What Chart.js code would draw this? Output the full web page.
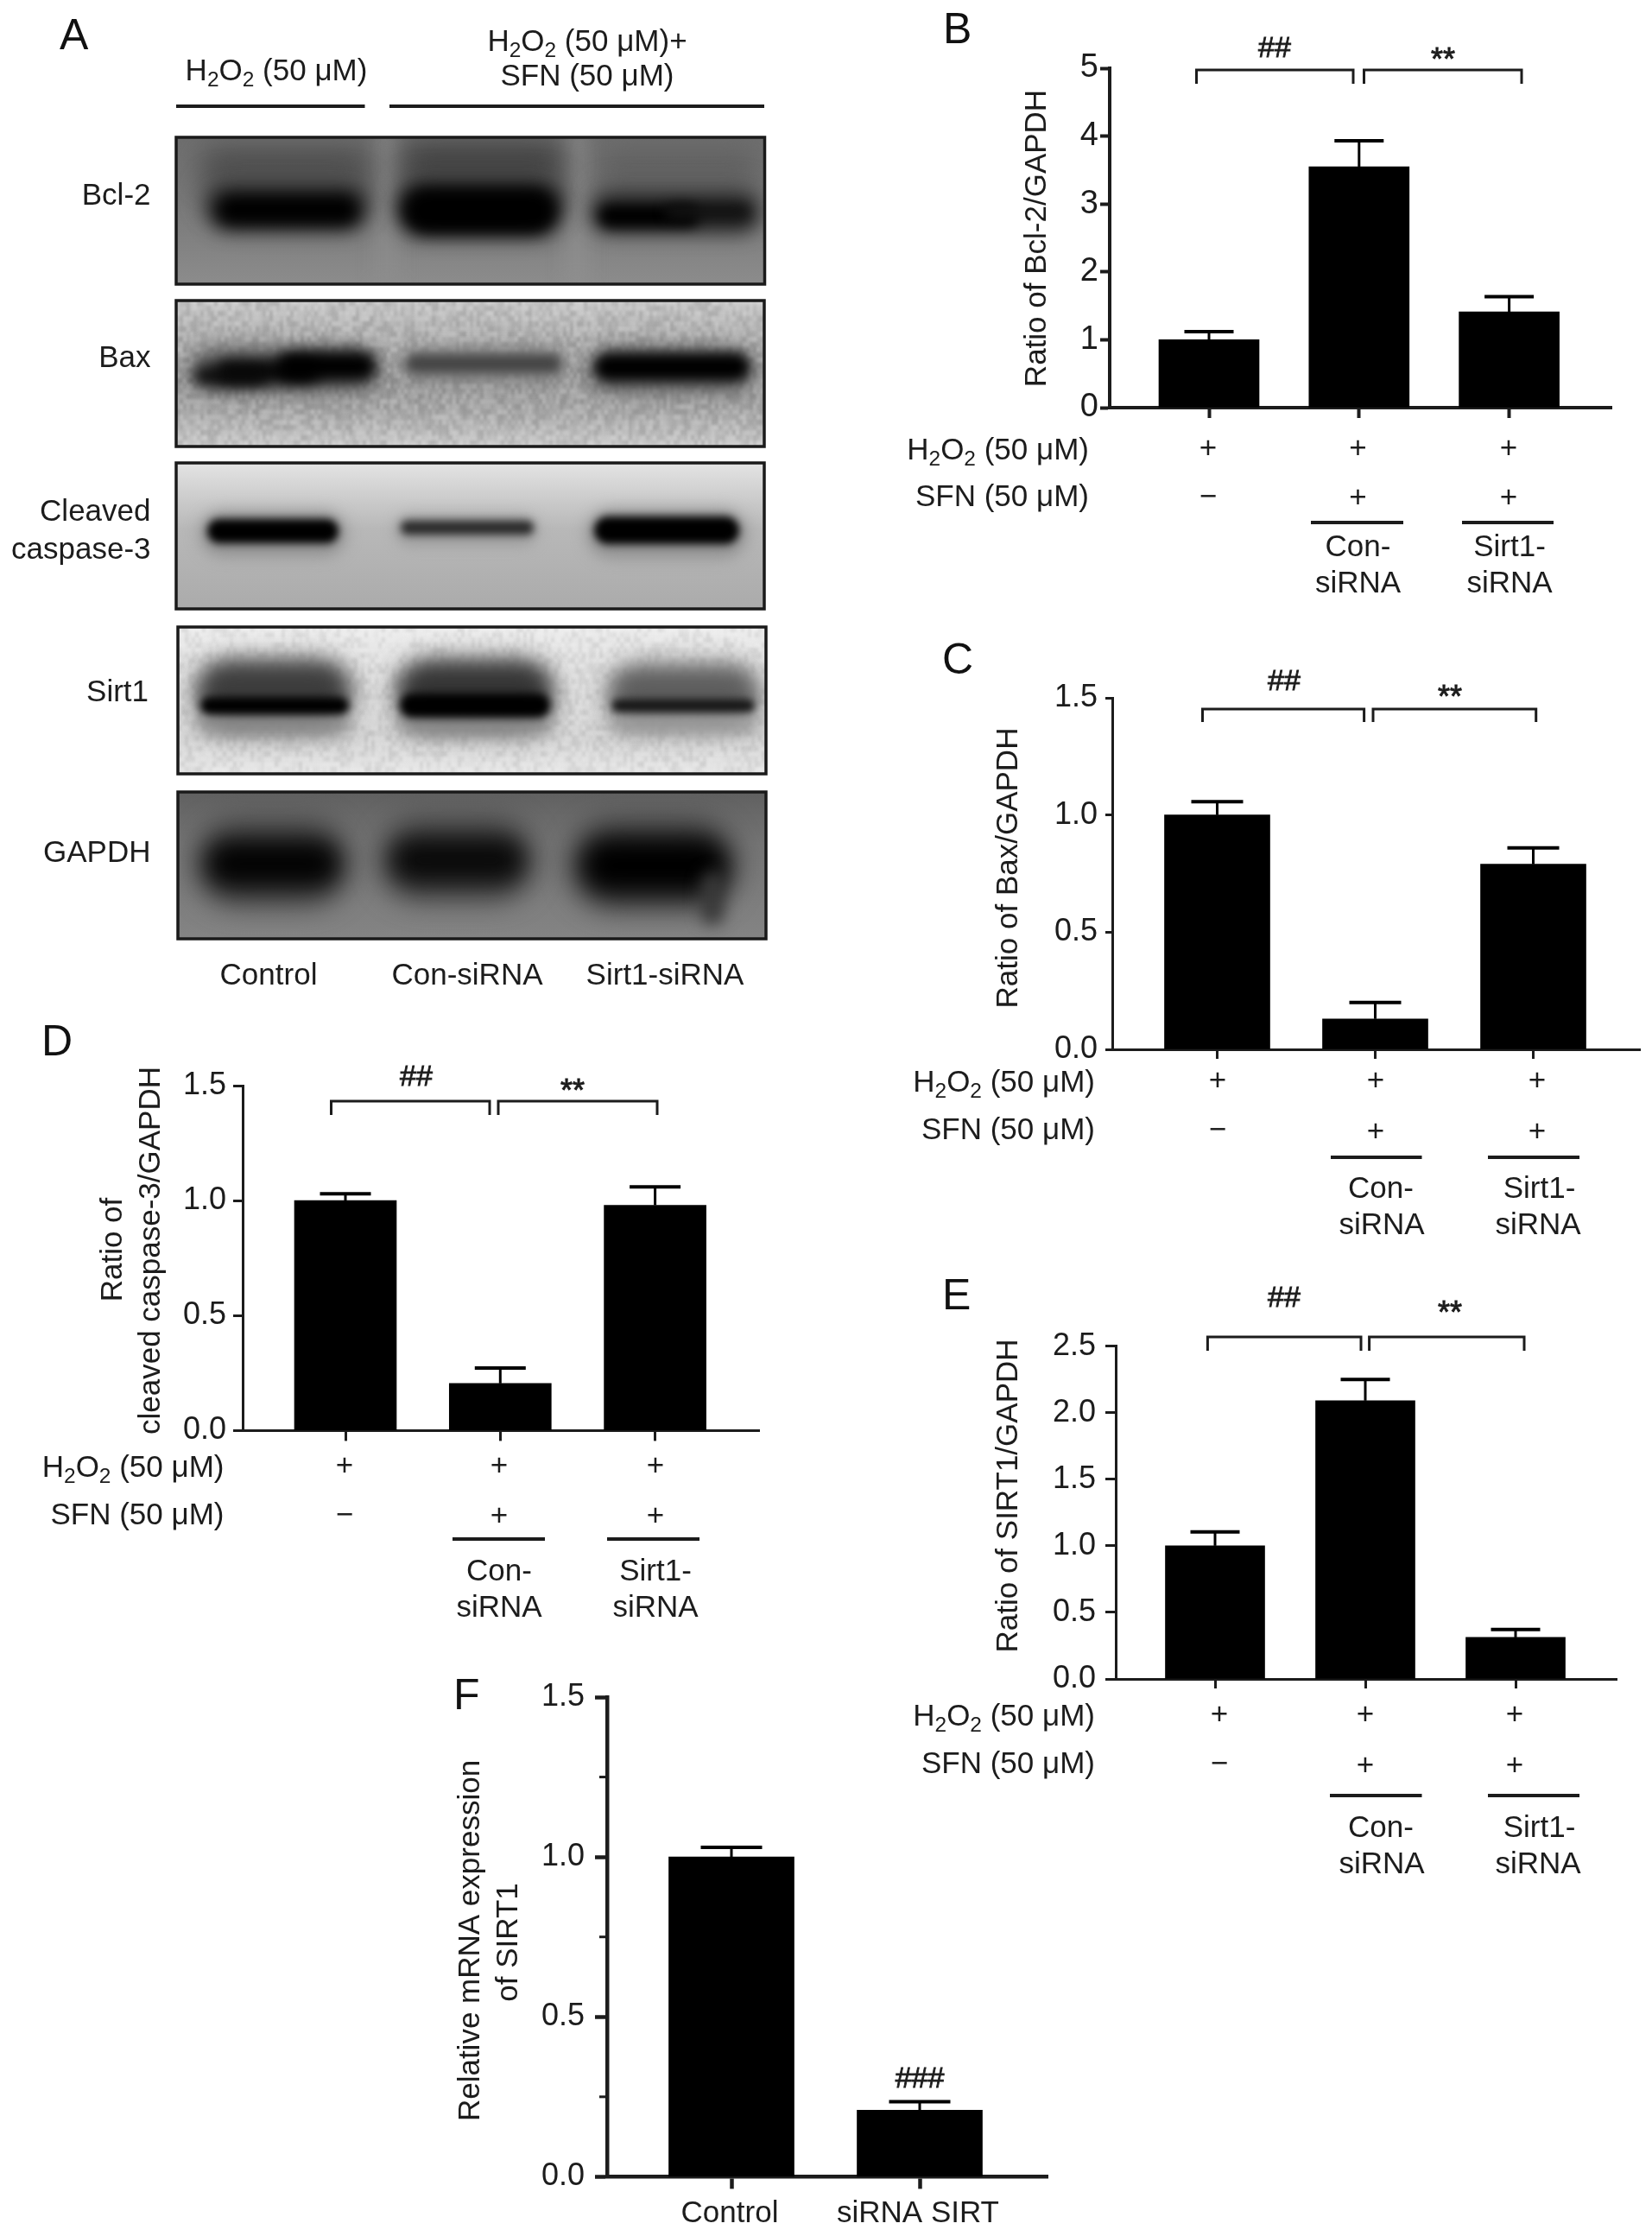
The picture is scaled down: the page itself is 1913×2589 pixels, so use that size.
<!DOCTYPE html>
<html><head><meta charset="utf-8">
<style>
html,body{margin:0;padding:0;background:#fff;width:1913px;height:2589px;overflow:hidden}
canvas{position:absolute;left:0;top:0;filter:blur(.6px)}
</style>
<script src="https://cdn.jsdelivr.net/npm/chart.js@4/dist/chart.umd.min.js"></script>
</head><body>
<script>
// ---------- data ----------
const categories = ['Control', 'Con-siRNA', 'Sirt1-siRNA'];
const mrnaCategories = ['Control', 'siRNA SIRT'];
const bcl2Values = [1.0, 3.55, 1.41];
const bcl2Errors = [0.12, 0.38, 0.225];
const baxValues = [1.0, 0.13, 0.79];
const baxErrors = [0.057, 0.07, 0.07];
const caspaseValues = [1.0, 0.205, 0.98];
const caspaseErrors = [0.03, 0.067, 0.08];
const sirt1Values = [1.0, 2.09, 0.312];
const sirt1Errors = [0.105, 0.16, 0.06];
const mrnaValues = [1.0, 0.208];
const mrnaErrors = [0.03, 0.027];
const bcl2Ticks = [0, 1, 2, 3, 4, 5];
const ratio15Ticks = [0, 0.5, 1.0, 1.5];
const sirt1Ticks = [0, 0.5, 1.0, 1.5, 2.0, 2.5];
const mrnaMinorTicks = [0.25, 0.75, 1.25];
const h2o2Row = ['+', '+', '+'];
const sfnRow = ['−', '+', '+'];
const blotRows = ['Bcl-2', 'Bax', 'Cleaved caspase-3', 'Sirt1', 'GAPDH'];

// ---------- shared drawing helpers ----------
const W = 1913, H = 2589, INK = '#1c1c1c', FAM = '"Liberation Sans", Arial, sans-serif';
function newCanvas(){ const c = document.createElement('canvas'); c.width = W; c.height = H; c.style.width = W+'px'; c.style.height = H+'px'; document.body.appendChild(c); return c; }
function font(s){ return s + 'px ' + FAM; }
function text(ctx, s, x, y, size, align){
  ctx.font = font(size); ctx.textAlign = align || 'center'; ctx.textBaseline = 'middle'; ctx.fillStyle = INK; ctx.fillText(s, x, y);
}
function heavy(ctx, s, x, y, size){
  text(ctx, s, x, y, size); ctx.strokeStyle = INK; ctx.lineWidth = .9; ctx.strokeText(s, x, y);
}
// "H2O2 (50 µM)" with real subscripts. anchor: 'right' or 'center'
function h2o2(ctx, x, y, size, anchor, suffix){
  const parts = [['H',0],['2',1],['O',0],['2',1],[' (50 μM)' + (suffix||''),0]];
  let tot = 0; parts.forEach(p => { ctx.font = font(p[1] ? size*.7 : size); tot += ctx.measureText(p[0]).width; });
  let cx = anchor === 'center' ? x - tot/2 : x - tot;
  ctx.textAlign = 'left'; ctx.textBaseline = 'alphabetic'; ctx.fillStyle = INK;
  const base = y + size*.355;
  parts.forEach(p => { ctx.font = font(p[1] ? size*.7 : size); ctx.fillText(p[0], cx, base + (p[1] ? size*.2 : 0)); cx += ctx.measureText(p[0]).width; });
}
function hline(ctx, x1, x2, y, w){ ctx.strokeStyle = INK; ctx.lineWidth = w; ctx.beginPath(); ctx.moveTo(x1,y); ctx.lineTo(x2,y); ctx.stroke(); }
function letter(ctx, s, x, baseY){ ctx.font = font(50); ctx.textAlign='left'; ctx.textBaseline='alphabetic'; ctx.fillStyle='#111'; ctx.fillText(s,x,baseY); }
function vtext(ctx, s, x, y, size){ ctx.save(); ctx.translate(x,y); ctx.rotate(-Math.PI/2); text(ctx,s,0,0,size); ctx.restore(); }

// ---------- bar panels ----------
function barPanel(p){
  const c = newCanvas();
  const yw = 120, hasLabels = !!p.nativeLabels, xh = hasLabels ? 70 : p.tickX + 2;
  new Chart(c, {
    type: 'bar',
    data: { datasets: [{ data: p.cats.map((_, i) => ({x: i, y: p.values[i]})), backgroundColor: '#000', borderWidth: 0, barThickness: p.barW }] },
    options: {
      responsive: false, animation: false,
      layout: { padding: { left: p.axisX - yw, right: W - p.axisEnd, top: p.yTop, bottom: H - p.y0 - xh } },
      plugins: { legend: {display:false}, tooltip: {enabled:false} },
      scales: {
        x: {
          type: 'linear', position: 'bottom', offset: false,
          min: (p.axisX - p.c0) / p.d, max: (p.axisEnd - p.c0) / p.d,
          afterBuildTicks: s => { s.ticks = p.cats.map((_, i) => ({value: i})); },
          afterFit: s => { s.height = xh; },
          border: { display: true, color: INK, width: p.axisW },
          grid: { display: true, offset: false, drawOnChartArea: false, drawTicks: true, tickLength: p.tickX, tickWidth: p.axisW, tickColor: INK, color: INK },
          ticks: { display: hasLabels, autoSkip: false, maxRotation: 0, padding: 8, labelOffset: -2, color: INK, font: {family: FAM, size: 35}, callback: v => p.cats[v] }
        },
        y: {
          min: 0, max: p.ticks[p.ticks.length-1], position: 'left',
          afterBuildTicks: s => { s.ticks = p.ticks.map(v => ({value: v})); },
          afterFit: s => { s.width = yw; },
          border: { display: true, color: INK, width: p.axisW },
          grid: { display: true, drawOnChartArea: false, drawTicks: true, tickLength: p.tickY, tickWidth: p.axisW, tickColor: INK, color: INK },
          ticks: { padding: p.tickPad, color: INK, font: {family: FAM, size: p.tickFont}, autoSkip: false, callback: v => v.toFixed(p.dec) }
        }
      }
    },
    plugins: [{
      id: 'annot',
      afterDatasetsDraw(chart){
        const ctx = chart.ctx, xs = chart.scales.x, ys = chart.scales.y;
        ctx.save();
        // error bars, from the scales
        ctx.strokeStyle = '#000';
        p.values.forEach((v, i) => {
          const x = xs.getPixelForValue(i), yt = ys.getPixelForValue(v + p.errs[i]), yb = ys.getPixelForValue(v);
          ctx.lineWidth = 3; ctx.beginPath(); ctx.moveTo(x, yb); ctx.lineTo(x, yt); ctx.stroke();
          ctx.lineWidth = 4; ctx.beginPath(); ctx.moveTo(x - p.capW/2, yt); ctx.lineTo(x + p.capW/2, yt); ctx.stroke();
        });
        // minor ticks
        (p.minor || []).forEach(v => { const y = ys.getPixelForValue(v); ctx.strokeStyle = INK; ctx.lineWidth = 3; ctx.beginPath(); ctx.moveTo(p.axisX, y); ctx.lineTo(p.axisX - 9, y); ctx.stroke(); });
        // brackets
        ctx.strokeStyle = INK; ctx.lineWidth = 3; ctx.lineJoin = 'miter';
        (p.brackets || []).forEach(b => { ctx.beginPath(); ctx.moveTo(b[0], b[3]); ctx.lineTo(b[0], b[2]); ctx.lineTo(b[1], b[2]); ctx.lineTo(b[1], b[3]); ctx.stroke(); });
        (p.marks || []).forEach(m => {
          if (m[0] === '**') heavy(ctx, '**', m[1], m[2] + 9, 36);
          else heavy(ctx, m[0], m[1], m[2], 34);
        });
        // condition rows
        if (p.rows) {
          h2o2(ctx, p.rows.right, p.rows.y1, 35, 'right');
          text(ctx, 'SFN (50 μM)', p.rows.right, p.rows.y2, 35, 'right');
          h2o2Row.forEach((s, i) => text(ctx, s, p.rows.px[i], p.rows.y1, 35));
          sfnRow.forEach((s, i) => text(ctx, s, p.rows.px[i], i ? p.rows.y2p : p.rows.y2, 35));
          p.rows.under.forEach(u => hline(ctx, u[0], u[1], p.rows.uy, 4));
          p.rows.names.forEach(n => text(ctx, n[0], n[1], n[2], 35));
        }
        (p.titles || []).forEach(t => vtext(ctx, t[0], t[1], t[2], 35));
        letter(ctx, p.letter[0], p.letter[1], p.letter[2]);
        ctx.restore();
      }
    }]
  });
}

barPanel({ cats: categories, values: bcl2Values, errs: bcl2Errors, ticks: bcl2Ticks, dec: 0,
  axisX: 1285, axisEnd: 1866, yTop: 79, y0: 472, c0: 1400, d: 173.8, barW: 116, capW: 57, axisW: 4, tickX: 12, tickY: 11, tickPad: 2, tickFont: 38,
  brackets: [[1385.5,1567,81,97],[1579.5,1762,81,97]], marks: [['##',1476,57],['**',1671,62]],
  rows: { right: 1261, y1: 520, y2: 576, y2p: 577, px: [1399,1572.5,1747], under: [[1518,1625],[1693,1799]], uy: 605,
    names: [['Con-',1572.5,634],['siRNA',1572.5,676],['Sirt1-',1748,634],['siRNA',1748,676]] },
  titles: [['Ratio of Bcl-2/GAPDH',1201,276]], letter: ['B',1092,50] });

barPanel({ cats: categories, values: baxValues, errs: baxErrors, ticks: ratio15Ticks, dec: 1,
  axisX: 1288.5, axisEnd: 1899, yTop: 808, y0: 1215, c0: 1409.5, d: 183, barW: 122, capW: 60, axisW: 3, tickX: 11, tickY: 8.5, tickPad: 9, tickFont: 36,
  brackets: [[1392.5,1579.6,821,836],[1590,1778.7,821,836]], marks: [['##',1487,790],['**',1679,800]],
  rows: { right: 1268, y1: 1252, y2: 1309, y2p: 1311, px: [1410,1593,1780], under: [[1541,1646.5],[1723,1829]], uy: 1340,
    names: [['Con-',1599,1377],['siRNA',1600,1419],['Sirt1-',1782.5,1377],['siRNA',1781,1419]] },
  titles: [['Ratio of Bax/GAPDH',1168,1005]], letter: ['C',1091,780] });

barPanel({ cats: categories, values: caspaseValues, errs: caspaseErrors, ticks: ratio15Ticks, dec: 1,
  axisX: 281, axisEnd: 879, yTop: 1257, y0: 1656.4, c0: 400, d: 179.3, barW: 118, capW: 59, axisW: 3, tickX: 12, tickY: 11, tickPad: 8, tickFont: 36,
  brackets: [[383.5,567,1275,1291],[577,761,1275,1291]], marks: [['##',482,1248],['**',663,1256]],
  rows: { right: 259.5, y1: 1698, y2: 1755, y2p: 1756, px: [399,578,759], under: [[524,631],[703,810]], uy: 1782,
    names: [['Con-',578,1820],['siRNA',578,1862],['Sirt1-',759,1820],['siRNA',759,1862]] },
  titles: [['Ratio of',131,1447],['cleaved caspase-3/GAPDH',175,1448]], letter: ['D',48,1222] });

barPanel({ cats: categories, values: sirt1Values, errs: sirt1Errors, ticks: sirt1Ticks, dec: 1,
  axisX: 1292, axisEnd: 1872, yTop: 1558.6, y0: 1944, c0: 1407, d: 174, barW: 115, capW: 57, axisW: 3, tickX: 11, tickY: 12, tickPad: 11, tickFont: 36,
  brackets: [[1398.4,1576,1548,1564],[1585.6,1765,1548,1564]], marks: [['##',1487,1504],['**',1679,1513]],
  rows: { right: 1268, y1: 1986, y2: 2043, y2p: 2045, px: [1412,1581,1754], under: [[1540,1646.5],[1723,1829]], uy: 2079,
    names: [['Con-',1599,2117],['siRNA',1600,2159],['Sirt1-',1782.5,2117],['siRNA',1781,2159]] },
  titles: [['Ratio of SIRT1/GAPDH',1168,1732]], letter: ['E',1091,1516] });

barPanel({ cats: mrnaCategories, values: mrnaValues, errs: mrnaErrors, ticks: ratio15Ticks, dec: 1, minor: mrnaMinorTicks, nativeLabels: true,
  axisX: 703, axisEnd: 1213, yTop: 1965, y0: 2520.4, c0: 847, d: 218, barW: 145, capW: 71, axisW: 4.5, tickX: 14, tickY: 14, tickPad: 12, tickFont: 36,
  marks: [['###',1065,2408]],
  titles: [['Relative mRNA expression',545,2247],['of SIRT1',589,2249]], letter: ['F',525,1979] });

// ---------- panel A: western blot ----------
function hash(a, b){ const s = Math.sin(a*127.1 + b*311.7) * 43758.5453; return s - Math.floor(s); }
function blot(ctx, box, stops, speck, blobs){
  const [x0,y0,x1,y1] = box;
  ctx.save();
  ctx.beginPath(); ctx.rect(x0,y0,x1-x0,y1-y0); ctx.clip();
  const g = ctx.createLinearGradient(0,y0,0,y1);
  stops.forEach(s => g.addColorStop(s[0], s[1]));
  ctx.fillStyle = g; ctx.fillRect(x0,y0,x1-x0,y1-y0);
  if (speck) {
    ctx.filter = 'blur(1.5px)';
    for (let y = y0; y < y1; y += 6) for (let x = x0; x < x1; x += 4) {
      const n = hash(x,y);
      ctx.fillStyle = n > .5 ? `rgba(255,255,255,${(n-.5)*speck})` : `rgba(0,0,0,${(.5-n)*speck*.5})`;
      ctx.fillRect(x,y,4,6);
    }
  }
  blobs.forEach(b => {
    ctx.filter = `blur(${b[5]}px)`; ctx.fillStyle = b[4];
    ctx.beginPath(); ctx.roundRect(b[0], b[2]-b[3]/2, b[1]-b[0], b[3], b[3]/2); ctx.fill();
  });
  ctx.filter = 'none';
  ctx.restore();
  ctx.strokeStyle = '#1a1a1a'; ctx.lineWidth = 3.5; ctx.strokeRect(x0,y0,x1-x0,y1-y0);
}
const cA = newCanvas();
new Chart(cA, {
  type: 'bar',
  data: { labels: blotRows, datasets: [] },
  options: { responsive: false, animation: false, plugins: {legend:{display:false}, tooltip:{enabled:false}}, scales: {x:{display:false}, y:{display:false}} },
  plugins: [{
    id: 'blots',
    beforeDraw(chart){
      const ctx = chart.ctx;
      ctx.save();
      letter(ctx, 'A', 69, 57);
      h2o2(ctx, 320, 81, 35, 'center');
      h2o2(ctx, 680, 47, 35, 'center', '+');
      text(ctx, 'SFN (50 μM)', 680, 89, 35);
      hline(ctx, 204, 422.5, 123, 4); hline(ctx, 451, 885, 123, 4);
      // Bcl-2
      blot(ctx, [204,159,885.5,329], [[0,'#6e6e6e'],[.4,'#767676'],[1,'#8c8c8c']], 0, [
        [440,456,240,190,'#8f8f8f',12],[660,676,240,190,'#929292',12],
        [232,430,192,40,'#4c4c4c',16],[462,655,188,48,'#424242',16],[692,878,192,34,'#5e5e5e',16],
        [236,428,226,44,'#4a4a4a',14],[462,655,228,46,'#404040',14],[690,878,232,36,'#505050',14],
        [240,425,243,50,'#1c1c1c',11],[460,650,244,62,'#0c0c0c',11],[684,880,248,44,'#262626',11],
        [254,412,243,30,'#000',8],[472,640,244,44,'#000',8],[694,810,250,26,'#000',7],[770,868,245,18,'#111',7]
      ]);
      // Bax
      blot(ctx, [204,348,885,517], [[0,'#c8c8c8'],[.3,'#acacac'],[.55,'#9a9a9a'],[.75,'#a8a8a8'],[1,'#cbcbcb']], .42, [
        [222,436,428,50,'#5c5c5c',11],[466,652,422,36,'#7c7c7c',9],[682,872,428,50,'#5c5c5c',11],
        [224,310,435,22,'#0c0c0c',8],[250,370,430,27,'#080808',8],[320,436,424,34,'#000',8],
        [470,650,421,20,'#444',6],[688,868,425,32,'#000',7]
      ]);
      // Cleaved caspase-3
      blot(ctx, [204,536,885,705], [[0,'#e4e4e4'],[.18,'#d2d2d2'],[.45,'#b8b8b8'],[1,'#ababab']], 0, [
        [232,400,618,50,'#8c8c8c',9],[458,622,614,34,'#999',8],[680,864,618,54,'#8c8c8c',9],
        [240,392,615,28,'#000',5],[464,618,611,16,'#2a2a2a',5],[688,856,614,32,'#000',5]
      ]);
      // Sirt1
      blot(ctx, [206,726,887,896], [[0,'#eeeeee'],[.2,'#e4e4e4'],[.75,'#d4d4d4'],[1,'#e8e8e8']], .32, [
        [228,406,806,80,'#6a6a6a',15],[460,640,806,80,'#626262',15],[704,878,806,70,'#7c7c7c',15],
        [232,402,798,56,'#3c3c3c',13],[464,636,798,56,'#343434',13],[710,874,800,46,'#5c5c5c',13],
        [230,404,838,20,'#8a8a8a',9],[462,638,838,22,'#8a8a8a',9],[706,876,838,20,'#999',9],
        [232,404,817,20,'#000',5],[463,637,817,28,'#000',5],[708,874,817,15,'#141414',5]
      ]);
      // GAPDH
      blot(ctx, [206,917,887,1087], [[0,'#606060'],[.35,'#747474'],[1,'#848484']], 0, [
        [226,404,1000,96,'#3a3a3a',16],[440,618,996,92,'#3c3c3c',16],[660,852,1002,100,'#303030',16],
        [240,392,1000,52,'#030303',13],[454,606,996,50,'#0a0a0a',13],[676,840,1002,58,'#000',13],
        [812,838,1040,62,'#383838',9]
      ]);
      text(ctx, 'Bcl-2', 174.5, 227, 35, 'right');
      text(ctx, 'Bax', 174.5, 415, 35, 'right');
      text(ctx, 'Cleaved', 174.5, 593, 35, 'right');
      text(ctx, 'caspase-3', 174.5, 637.5, 35, 'right');
      text(ctx, 'Sirt1', 172, 802, 35, 'right');
      text(ctx, 'GAPDH', 174.5, 988.5, 35, 'right');
      categories.forEach((s, i) => text(ctx, s, [311,541,770][i], 1130, 35));
      ctx.restore();
    }
  }]
});
</script>
</body></html>
